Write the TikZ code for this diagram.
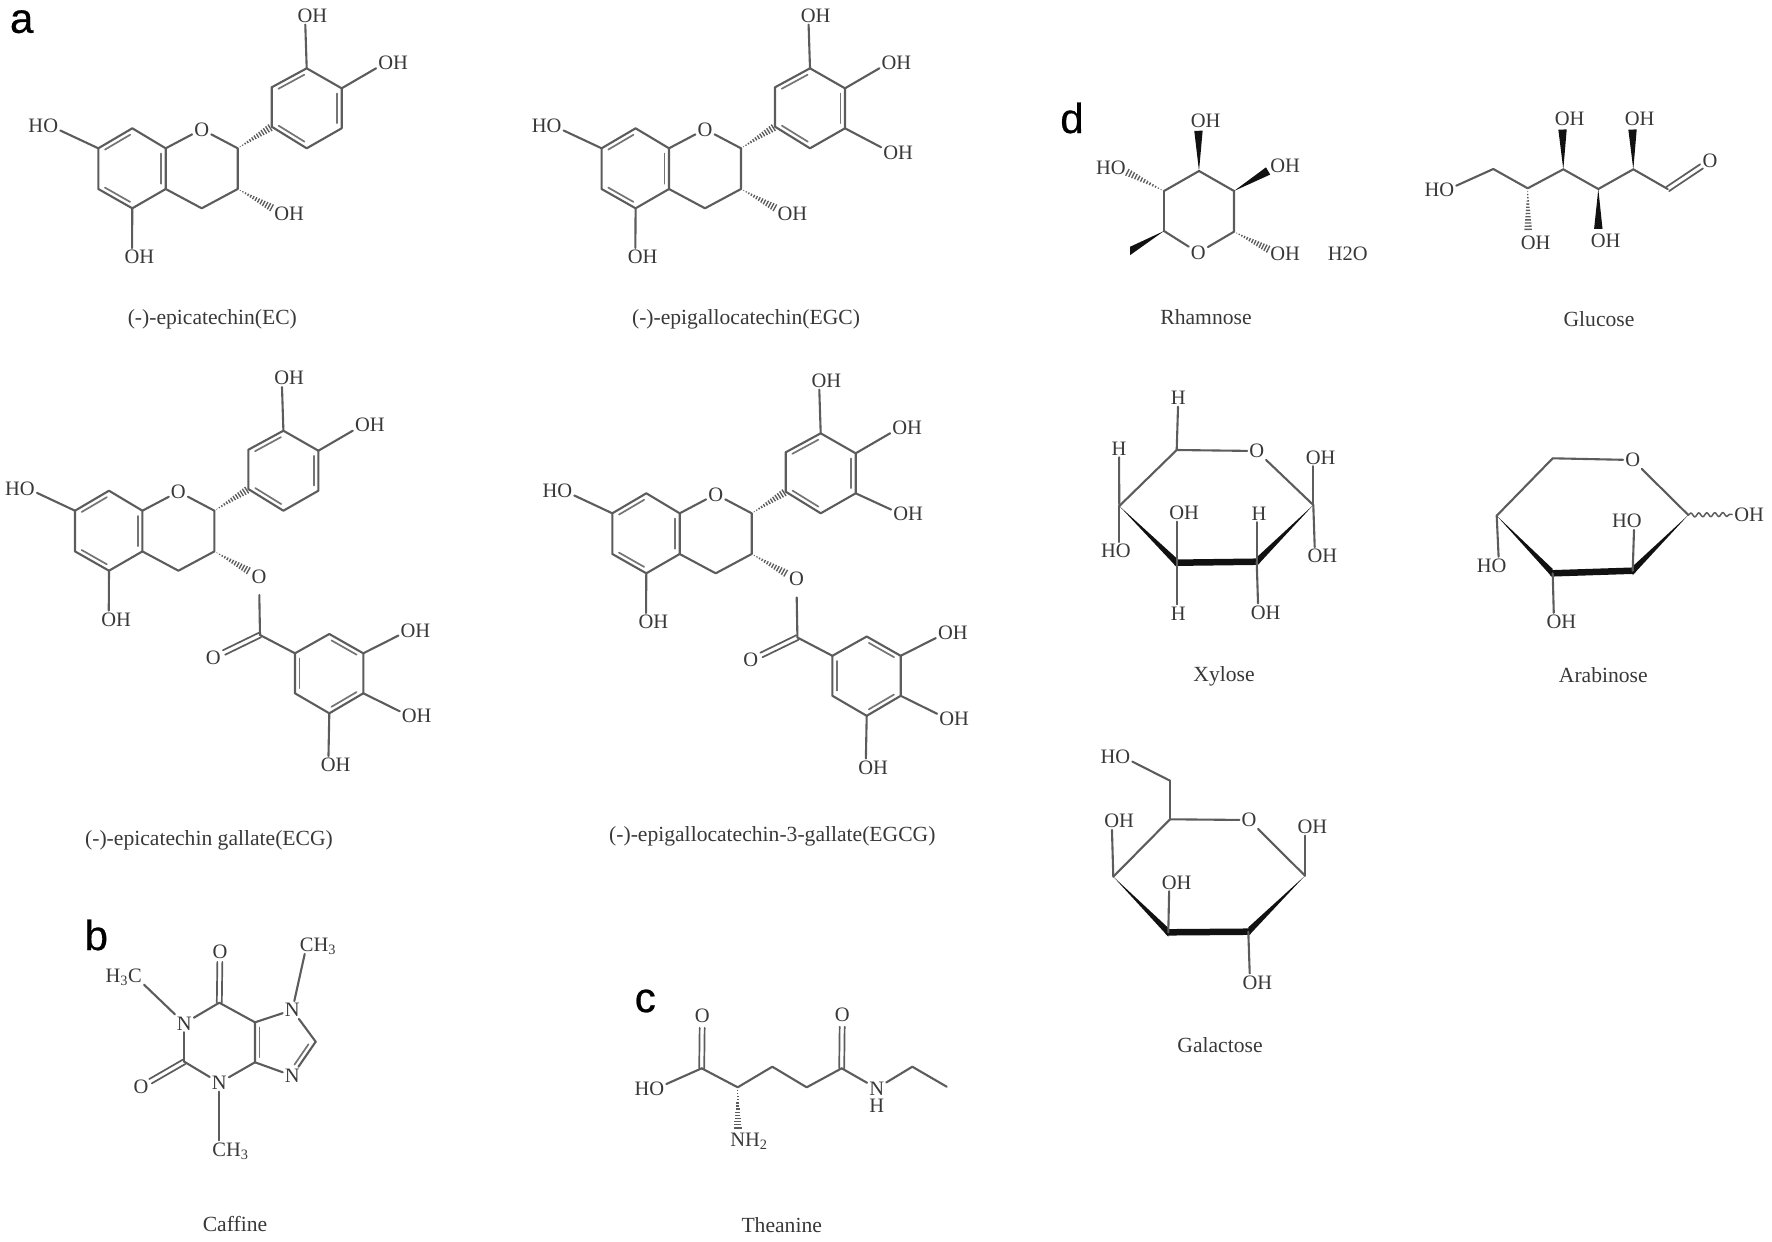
\documentclass[tikz,border=0pt]{standalone}
\usepackage{fontspec}
\setmainfont{Liberation Serif}
\newfontfamily\lettfont[FakeBold=0.6]{Liberation Sans}
\usetikzlibrary{calc,decorations.pathmorphing}
\definecolor{inkline}{HTML}{5C5C5C}
\definecolor{inktext}{HTML}{383838}
\definecolor{inkwedge}{HTML}{111111}
\tikzset{
  bond/.style={draw=inkline,line width=2.1pt,line cap=round,line join=round},
  bondin/.style={draw=inkline!85,line width=1.7pt,line cap=round},
  hashl/.style={draw=inkline,line width=1.35pt},
  wedgef/.style={fill=inkwedge,draw=none},
  lab/.style={inner sep=2pt,text height=13.5pt,text depth=0pt,text=inktext,font=\fontsize{20.5}{20.5}\selectfont},
  captext/.style={inner sep=0pt,text=inktext,font=\fontsize{21.6}{21.6}\selectfont},
  lett/.style={inner sep=0pt,text=black,font=\fontsize{42}{42}\lettfont\selectfont},
}
\newcommand\mOH{O\rlap{H}}
\newcommand\mHO{\llap{H}O}
\newcommand\lab[3]{\node[lab] (#1) at (#2) {#3};}
\newcommand\ptc[2]{\coordinate (#1) at (#2);}
% parallel inner line from fraction #4 to #5 of a->b, offset #3 (positive = left of a->b)
\newcommand\dblf[5]{\draw[bondin] ($(#1)!#4!(#2)!#3!90:(#2)$) -- ($(#1)!#5!(#2)!#3!90:(#2)$);}
\newcommand\dblb[3]{\dblf{#1}{#2}{#3}{.13}{.87}}
% symmetric double bond from a to fraction #3 of the way to b
\newcommand\dbo[3]{\draw[bond,line width=1.7pt] ($(#1)!2.5pt!90:(#2)$) -- ($(#1)!#3!(#2)!2.5pt!90:(#2)$);
  \draw[bond,line width=1.7pt] ($(#1)!2.5pt!-90:(#2)$) -- ($(#1)!#3!(#2)!2.5pt!-90:(#2)$);}
% solid wedge: narrow at a, half width #4 at fraction #3
\newcommand\wedgeb[4]{\fill[wedgef] (#1) -- ($(#1)!#3!(#2)!#4!90:(#2)$) -- ($(#1)!#3!(#2)!-#4!90:(#2)$) -- cycle;}
% hashed wedge
\newcommand\hashb[3]{\foreach \kk in {1,...,13}{\pgfmathsetmacro{\tfr}{\kk/13}\pgfmathsetmacro{\ffr}{\tfr*#3}\pgfmathsetmacro{\wwd}{\tfr*3.8}
  \draw[hashl] ($(#1)!\ffr!(#2)!\wwd pt!90:(#2)$) -- ($(#1)!\ffr!(#2)!-\wwd pt!90:(#2)$);}}
% flavan-3-ol core
\newcommand\flavcore[3]{%
\begin{scope}[shift={(#2,#3)}]
  \ptc{#1c7}{98.3,148.3}\ptc{#1c8}{132.3,128.3}\ptc{#1c8a}{165.7,148.3}\ptc{#1c4a}{165.7,189}
  \ptc{#1c5}{132.3,208.3}\ptc{#1c6}{98.3,189}\ptc{#1c2}{237.7,148.3}\ptc{#1c3}{237.7,189}\ptc{#1c4}{201.7,208.3}
  \ptc{#1b1}{271.7,126.7}\ptc{#1b2}{271.7,87.3}\ptc{#1b3}{306.7,68.3}\ptc{#1b4}{341.7,88.3}\ptc{#1b5}{341.7,128.3}\ptc{#1b6}{306.7,148.3}
  \lab{#1o}{201.7,129.3}{O}
  \lab{#1ho7}{50.7,126}{\mHO}
  \lab{#1oh5}{132,257}{\mOH}
  \lab{#1oh3p}{305,15.7}{\mOH}
  \lab{#1oh4p}{385.7,62.7}{\mOH}
\end{scope}
\draw[bond] (#1c7)--(#1c8)--(#1c8a)--(#1c4a)--(#1c5)--(#1c6)--cycle;
\draw[bond] (#1c8a)--(#1o); \draw[bond] (#1o)--(#1c2);
\draw[bond] (#1c2)--(#1c3)--(#1c4)--(#1c4a);
\draw[bond] (#1b1)--(#1b2)--(#1b3)--(#1b4)--(#1b5)--(#1b6)--cycle;
\draw[bond] (#1c7)--(#1ho7); \draw[bond] (#1c5)--(#1oh5);
\draw[bond] (#1b3)--(#1oh3p); \draw[bond] (#1b4)--(#1oh4p);
\dblb{#1c7}{#1c8}{-4.5pt}\dblb{#1c5}{#1c6}{-4.5pt}\dblb{#1c8a}{#1c4a}{-4.5pt}
\dblb{#1b2}{#1b3}{-4.5pt}\dblb{#1b4}{#1b5}{-4.5pt}\dblb{#1b6}{#1b1}{-4.5pt}
\hashb{#1c2}{#1b1}{.95}
}
% gallate ester, at the offset of ECG
\newcommand\gallate[3]{%
\begin{scope}[shift={(#2,#3)}]
  \lab{#1eo}{259,576.7}{O}
  \ptc{#1ef}{259.3,595}\ptc{#1cc}{260,635}
  \lab{#1co}{213.3,657.7}{O}
  \ptc{#1g1}{295,653.3}\ptc{#1g2}{329.3,634}\ptc{#1g3}{363.3,653.3}\ptc{#1g4}{363.3,693.3}\ptc{#1g5}{329.3,713.3}\ptc{#1g6}{295,693.3}
  \lab{#1goa}{408,630.7}{\mOH}
  \lab{#1gob}{409.3,716}{\mOH}
  \lab{#1goc}{328.3,765}{\mOH}
\end{scope}
\hashb{#1c3}{#1eo}{.76}
\draw[bond] (#1ef)--(#1cc)--(#1g1);
\dbo{#1cc}{#1co}{.77}
\draw[bond] (#1g1)--(#1g2)--(#1g3)--(#1g4)--(#1g5)--(#1g6)--cycle;
\dblb{#1g2}{#1g3}{-4.5pt}\dblb{#1g4}{#1g5}{-4.5pt}\dblb{#1g6}{#1g1}{-4.5pt}
\draw[bond] (#1g3)--(#1goa); \draw[bond] (#1g4)--(#1gob); \draw[bond] (#1g5)--(#1goc);
}
\begin{document}
\begin{tikzpicture}[x=1pt,y=-1pt]
\useasboundingbox (0,0) rectangle (1772,1242);
% panel letters
\node[lett] (la) at (21.7,21.7) {a};
\node[lett] (lb) at (96.3,935) {b};
\node[lett] (lc) at (645.3,1001) {c};
\node[lett] (ld) at (1072,118) {d};
% EC
\flavcore{ec}{0}{0}
\lab{ecoh3}{281.7,213.3}{\mOH}
\hashb{ecc3}{ecoh3}{.77}
% EGC
\flavcore{egc}{503.3}{0}
\lab{egcoh3}{785,213.3}{\mOH}
\lab{egcoh5p}{890.7,152.3}{\mOH}
\hashb{egcc3}{egcoh3}{.77}
\draw[bond] (egcb5)--(egcoh5p);
% ECG
\flavcore{ecg}{-23.3}{362.4}
\gallate{ecg}{0}{0}
% EGCG
\flavcore{egg}{514}{365}
\gallate{egg}{537.4}{2.5}
\lab{eggoh5p}{900.7,514}{\mOH}
\draw[bond] (eggb5)--(eggoh5p);
% captions
\node[captext] (capec) at (212.3,319.3) {(-)-epicatechin(EC)};
\node[captext] (capegc) at (746,319.3) {(-)-epigallocatechin(EGC)};
\node[captext] (capecg) at (209,840) {(-)-epicatechin gallate(ECG)};
\node[captext] (capegg) at (772.3,836.7) {(-)-epigallocatechin-3-gallate(EGCG)};
\node[captext] (capcaf) at (235,1224) {Caffine};
\node[captext] (capthe) at (781.7,1225) {Theanine};
\node[captext] (caprha) at (1206,317.3) {Rhamnose};
\node[captext] (capglu) at (1599,319.3) {Glucose};
\node[captext] (capxyl) at (1224,676.7) {Xylose};
\node[captext] (capara) at (1603.3,675) {Arabinose};
\node[captext] (capgal) at (1220,1045) {Galactose};
% Caffeine
\lab{cn1}{184.3,1023.3}{N}\lab{cn3}{219.3,1082.7}{N}\lab{cn7}{292.3,1010}{N}\lab{cn9}{292.3,1075.7}{N}
\ptc{cc2}{184.3,1061.7}\ptc{cc4}{255,1062.3}\ptc{cc5}{255,1022.3}\ptc{cc6}{219.3,1002.7}\ptc{cc8}{315.7,1041.7}
\lab{co6}{220,951.7}{O}\lab{co2}{141,1086.7}{O}
\lab{cme7}{306.7,945}{C\rlap{H\textsubscript{3}}}
\lab{cme1}{135,976}{\llap{H\textsubscript{3}}C}
\lab{cme3}{219.3,1149.3}{C\rlap{H\textsubscript{3}}}
\draw[bond] (cn1)--(cc2); \draw[bond] (cc2)--(cn3); \draw[bond] (cn3)--(cc4);
\draw[bond] (cc4)--(cc5)--(cc6); \draw[bond] (cc6)--(cn1);
\draw[bond] (cc5)--(cn7); \draw[bond] (cn7)--(cc8); \draw[bond] (cc8)--(cn9); \draw[bond] (cn9)--(cc4);
\dblb{cc4}{cc5}{-4.5pt}
\dblf{cc8}{cn9}{-4.5pt}{.15}{.75}
\dbo{cc6}{co6}{.8}\dbo{cc2}{co2}{.78}
\draw[bond] (cn1)--(cme1); \draw[bond] (cn7)--(cme7); \draw[bond] (cn3)--(cme3);
% Theanine
\lab{tho}{656.7,1088.3}{\mHO}
\ptc{tc1}{701.7,1068.3}\ptc{tca}{737.7,1087.3}\ptc{tcb}{772.3,1066.7}\ptc{tcg}{806.7,1087.3}\ptc{tcd}{841.7,1068.3}
\ptc{tce}{912.3,1066.7}\ptc{tcm}{946.7,1086.7}
\lab{to1}{702.3,1015.7}{O}\lab{to2}{842.3,1014.3}{O}
\lab{tn}{876.7,1088.3}{N}\node[lab,inner sep=0pt] (th) at (876.7,1105.7) {H};
\lab{tnh}{737.7,1140}{N\rlap{H\textsubscript{2}}}
\draw[bond] (tho)--(tc1); \draw[bond] (tc1)--(tca)--(tcb)--(tcg)--(tcd);
\draw[bond] (tcd)--(tn); \draw[bond] (tn)--(tce); \draw[bond] (tce)--(tcm);
\dbo{tc1}{to1}{.77}\dbo{tcd}{to2}{.77}
\hashb{tca}{tnh}{.77}
% Rhamnose
\ptc{ra}{1199,171}\ptc{rb}{1234,191}\ptc{rc}{1234,231.7}\ptc{re}{1164,231}\ptc{rf}{1164,191}\ptc{rm}{1130,251}
\lab{ro}{1198.3,252.7}{O}
\lab{roa}{1198.3,120.7}{\mOH}\lab{rob}{1277.7,165.3}{\mOH}\lab{roc}{1277.7,254}{\mOH}\lab{rof}{1118.3,167.7}{\mHO}
\node[lab] (rw) at (1347.7,254) {H2O};
\draw[bond] (rf)--(ra)--(rb)--(rc); \draw[bond] (rc)--(ro); \draw[bond] (ro)--(re); \draw[bond] (re)--(rf);
\wedgeb{ra}{roa}{.8}{4.2pt}\wedgeb{rb}{rob}{.78}{4.2pt}\wedgeb{re}{rm}{1}{4.2pt}
\hashb{rf}{rof}{.8}\hashb{rc}{roc}{.78}
% Glucose
\lab{gho}{1446.7,190}{\mHO}
\ptc{g6}{1493.3,169}\ptc{g5}{1527.7,188.3}\ptc{g4}{1563.3,169.3}\ptc{g3}{1598.3,189}\ptc{g2}{1633.3,169.3}\ptc{g1}{1667.7,189}
\lab{go}{1710,160.7}{O}
\lab{go5}{1528.3,242.3}{\mOH}\lab{go4}{1562.3,118.3}{\mOH}\lab{go3}{1598.3,240.7}{\mOH}\lab{go2}{1632.3,118.3}{\mOH}
\draw[bond] (gho)--(g6); \draw[bond] (g6)--(g5)--(g4)--(g3)--(g2)--(g1);
\dbo{g1}{go}{.8}
\hashb{g5}{go5}{.76}\wedgeb{g4}{go4}{.78}{4.2pt}\wedgeb{g3}{go3}{.77}{4.2pt}\wedgeb{g2}{go2}{.78}{4.2pt}
% Xylose
\ptc{xa}{1176.7,450}\ptc{xb}{1313.3,505}\ptc{xc}{1256.7,561.7}\ptc{xd}{1176.7,562.7}\ptc{xe}{1119.3,506}
\lab{xo}{1256.7,451}{O}
\lab{xha}{1178.3,397.7}{H}\lab{xhe}{1119,448.3}{H}
\lab{xoe}{1123.3,551}{\mHO}
\lab{xod}{1176.7,512.7}{\mOH}\lab{xhd}{1178.3,613.3}{H}
\lab{xhc}{1259,513.3}{H}\lab{xoc}{1258.3,612.3}{\mOH}
\lab{xob}{1313.3,457.3}{\mOH}\lab{xop}{1315,556}{\mOH}
\draw[bond] (xe)--(xa); \draw[bond] (xa)--(xo); \draw[bond] (xo)--(xb);
\wedgeb{xe}{xd}{1}{4.4pt}\wedgeb{xb}{xc}{1}{4.4pt}
\draw[draw=inkwedge,line width=6.5pt,line cap=round] (xd)--(xc);
\draw[bond] (xa)--(xha); \draw[bond] (xe)--(xhe); \draw[bond] (xe)--(xe |- xoe.north);
\draw[bond] (xd)--(xod); \draw[bond] (xd)--(xd |- xhd.north);
\draw[bond] (xc)--(xc |- xhc.south); \draw[bond] (xc)--(xoc);
\draw[bond] (xb)--(xob); \draw[bond] (xb)--(xop);
% Arabinose
\ptc{aa}{1552.7,458.3}\ptc{ab}{1688.3,515}\ptc{ac}{1632.7,570.7}\ptc{ad}{1552.7,573.3}\ptc{ae}{1496.7,515.7}
\lab{ao}{1632.7,460}{O}
\lab{aob}{1741.7,514.3}{\mOH}\lab{aoc}{1634.3,521}{\mHO}\lab{aoe}{1499,565.7}{\mHO}\lab{aod}{1554,621.7}{\mOH}
\draw[bond] (ae)--(aa); \draw[bond] (aa)--(ao); \draw[bond] (ao)--(ab);
\wedgeb{ae}{ad}{1}{4.4pt}\wedgeb{ab}{ac}{1}{4.4pt}
\draw[draw=inkwedge,line width=6.5pt,line cap=round] (ad)--(ac);
\draw[bond] (ac)--(aoc); \draw[bond] (ae)--(aoe); \draw[bond] (ad)--(aod);
\draw[bond,line width=1.5pt,decorate,decoration={snake,amplitude=2pt,segment length=8pt}] (ab)--(aob);
% Galactose
\ptc{la1}{1170,819.3}\ptc{lb1}{1305,875.7}\ptc{lc1}{1248.3,931.7}\ptc{ld1}{1168.3,932.3}\ptc{le1}{1113.3,876.7}\ptc{lm1}{1170,780.7}
\lab{lo}{1249,820}{O}
\lab{loh}{1122.7,756.7}{\mHO}\lab{loe}{1111.7,821}{\mOH}\lab{lod}{1169.3,882.3}{\mOH}\lab{lob}{1305,826.7}{\mOH}\lab{loc}{1250,982.3}{\mOH}
\draw[bond] (le1)--(la1); \draw[bond] (la1)--(lo); \draw[bond] (lo)--(lb1);
\wedgeb{le1}{ld1}{1}{4.4pt}\wedgeb{lb1}{lc1}{1}{4.4pt}
\draw[draw=inkwedge,line width=6.5pt,line cap=round] (ld1)--(lc1);
\draw[bond] (la1)--(lm1); \draw[bond] (lm1)--(loh);
\draw[bond] (le1)--(loe); \draw[bond] (ld1)--(lod); \draw[bond] (lb1)--(lob); \draw[bond] (lc1)--(loc);
\end{tikzpicture}
\end{document}
